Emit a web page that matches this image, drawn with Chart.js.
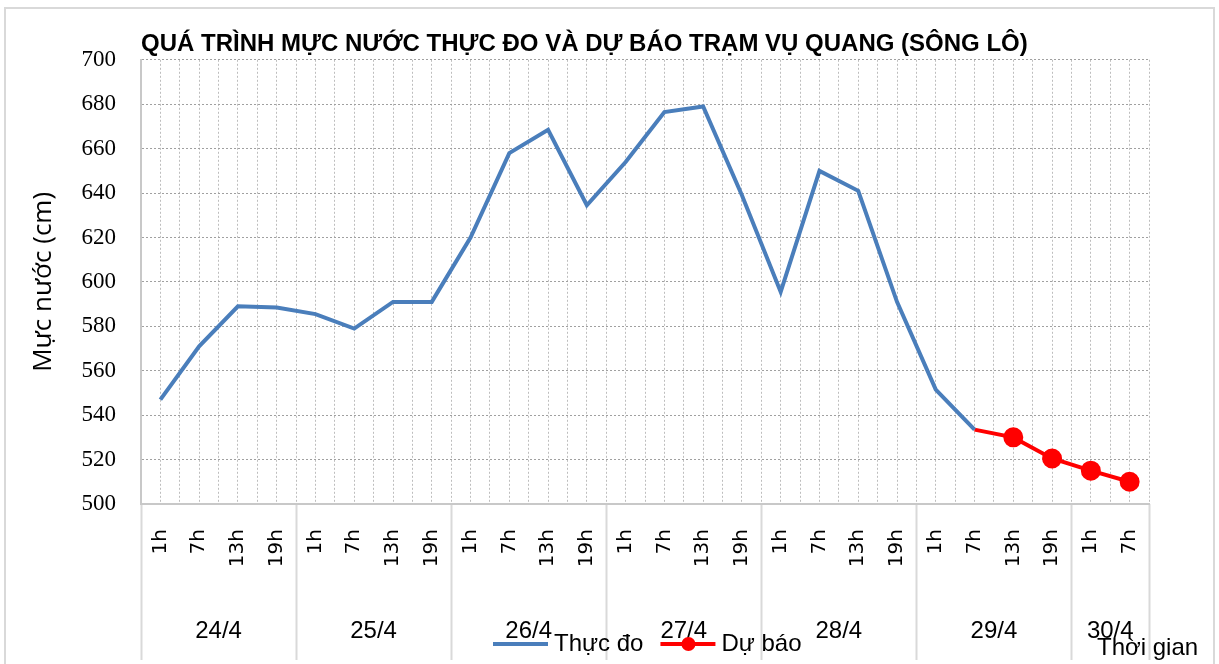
<!DOCTYPE html>
<html>
<head>
<meta charset="utf-8">
<script src="https://cdn.jsdelivr.net/npm/chart.js@4.4.1/dist/chart.umd.min.js"></script>
<style>
  html, body { margin: 0; padding: 0; background: #fff; }
  #wrap { width: 1219px; height: 664px; }
</style>
</head>
<body>
<div id="wrap"><canvas id="chart"></canvas></div>
<script>
// hour of each reading, grouped by day below
const hours = ['1h','7h','13h','19h', '1h','7h','13h','19h', '1h','7h','13h','19h',
               '1h','7h','13h','19h', '1h','7h','13h','19h', '1h','7h','13h','19h',
               '1h','7h'];
const days = ['24/4','25/4','26/4','27/4','28/4','29/4','30/4'];
const daySpans = [4, 4, 4, 4, 4, 4, 2];

// water level (cm)
const measured = [547, 571, 589, 588.5, 585.5, 579, 591, 591,
                  620, 658, 668.5, 634.5, 654, 676.5, 679, 639,
                  595.5, 650, 641, 591, 551.5, 533.5, null, null, null, null];
const forecast = [null, null, null, null, null, null, null, null,
                  null, null, null, null, null, null, null, null,
                  null, null, null, null, null, 533.5, 530, 520.5, 515, 510];

const yMin = 500, yMax = 700, yStep = 20;

// boundaries between days (index of first hour of each day)
const dayStarts = [];
daySpans.reduce((acc, n) => { dayStarts.push(acc); return acc + n; }, 0);

const frame = {
  id: 'frame',
  beforeDraw(chart) {
    const c = chart.ctx;
    c.save();
    c.fillStyle = '#fff';
    c.fillRect(0, 0, chart.width, chart.height);
    c.strokeStyle = '#d9d9d9';
    c.lineWidth = 2;
    c.strokeRect(5, 8, chart.width - 10, chart.height + 10);
    c.restore();
  },
  afterDraw(chart) {
    const c = chart.ctx, x = chart.scales.x, area = chart.chartArea;
    c.save();
    c.fillStyle = '#000';
    c.font = '24px "Liberation Sans"';
    c.textAlign = 'center';
    c.textBaseline = 'middle';
    dayStarts.forEach((s, k) => {
      const a = x.getPixelForValue(s), b = x.getPixelForValue(s + daySpans[k] - 1);
      c.fillText(days[k], (a + b) / 2, 631);
    });

    // legend, drawn over the day labels like the original
    const ds = chart.data.datasets;
    const ly = 644;
    let lx = 493;
    c.textAlign = 'left';
    ds.forEach((d, i) => {
      c.strokeStyle = d.borderColor;
      c.lineWidth = 4;
      c.beginPath();
      c.moveTo(lx, ly);
      c.lineTo(lx + 55, ly);
      c.stroke();
      if (i === 1) {
        c.fillStyle = d.borderColor;
        c.beginPath();
        c.arc(lx + 28, ly, 7, 0, Math.PI * 2);
        c.fill();
      }
      c.fillStyle = '#000';
      c.fillText(d.label, lx + 61, ly);
      lx += 61 + c.measureText(d.label).width + 17;
    });

    c.fillText('Thời gian', 1097, 648);
    c.restore();
  }
};

new Chart(document.getElementById('chart'), {
  type: 'line',
  data: {
    labels: hours,
    datasets: [
      {
        label: 'Thực đo',
        data: measured,
        borderColor: '#4a7ebb',
        borderWidth: 4,
        pointRadius: 0,
        tension: 0,
        spanGaps: false
      },
      {
        label: 'Dự báo',
        data: forecast,
        borderColor: '#ff0000',
        backgroundColor: '#ff0000',
        borderWidth: 4,
        pointRadius: ctx => ctx.dataIndex > 21 ? 9 : 0,
        pointBorderWidth: 2,
        tension: 0
      }
    ]
  },
  options: {
    responsive: true,
    maintainAspectRatio: false,
    animation: false,
    layout: { padding: { top: 20, left: 24, right: 70, bottom: 0 } },
    plugins: {
      legend: { display: false },
      tooltip: { enabled: false },
      title: {
        display: true,
        text: 'QUÁ TRÌNH MỰC NƯỚC THỰC ĐO VÀ DỰ BÁO TRẠM VỤ QUANG (SÔNG LÔ)',
        align: 'start',
        fullSize: false,
        color: '#000',
        font: { family: 'Liberation Sans', size: 24, weight: 'bold' },
        padding: { top: 10, bottom: 1 }
      }
    },
    scales: {
      x: {
        offset: true,
        weight: 1,
        afterFit: s => { s.height = 160; },
        grid: { offset: false, drawTicks: false, color: '#bdbdbd', lineWidth: 1 },
        border: { display: true, color: '#c8c8c8', width: 2, dash: [2, 2] },
        ticks: {
          autoSkip: false,
          minRotation: 90,
          maxRotation: 90,
          padding: 25,
          color: '#000',
          font: { family: 'DejaVu Sans', size: 20 }
        }
      },
      x2: {
        type: 'category',
        position: 'bottom',
        offset: true,
        weight: 0,
        afterFit: s => { s.height = 0; },
        grid: {
          offset: true,
          drawTicks: true,
          tickLength: 156,
          color: '#bdbdbd',
          tickColor: ctx => (ctx.type === 'scale' || dayStarts.includes(ctx.index)) ? '#d9d9d9' : 'rgba(0,0,0,0)',
          tickWidth: 2
        },
        border: { display: false, dash: [2, 2] },
        ticks: { display: false }
      },
      y: {
        min: yMin,
        max: yMax,
        afterFit: s => { s.width = 117; },
        grid: { drawTicks: false, color: '#a0a0a0', lineWidth: 1 },
        border: { display: true, color: '#c8c8c8', width: 2, dash: [2, 2] },
        ticks: {
          stepSize: yStep,
          padding: 25,
          color: '#000',
          font: { family: 'Liberation Serif', size: 23 }
        },
        title: {
          display: true,
          text: 'Mực nước (cm)',
          color: '#000',
          font: { family: 'Open Sans', size: 26 },
          padding: { top: 4, bottom: 0 }
        }
      }
    }
  },
  plugins: [frame]
});
</script>
</body>
</html>
